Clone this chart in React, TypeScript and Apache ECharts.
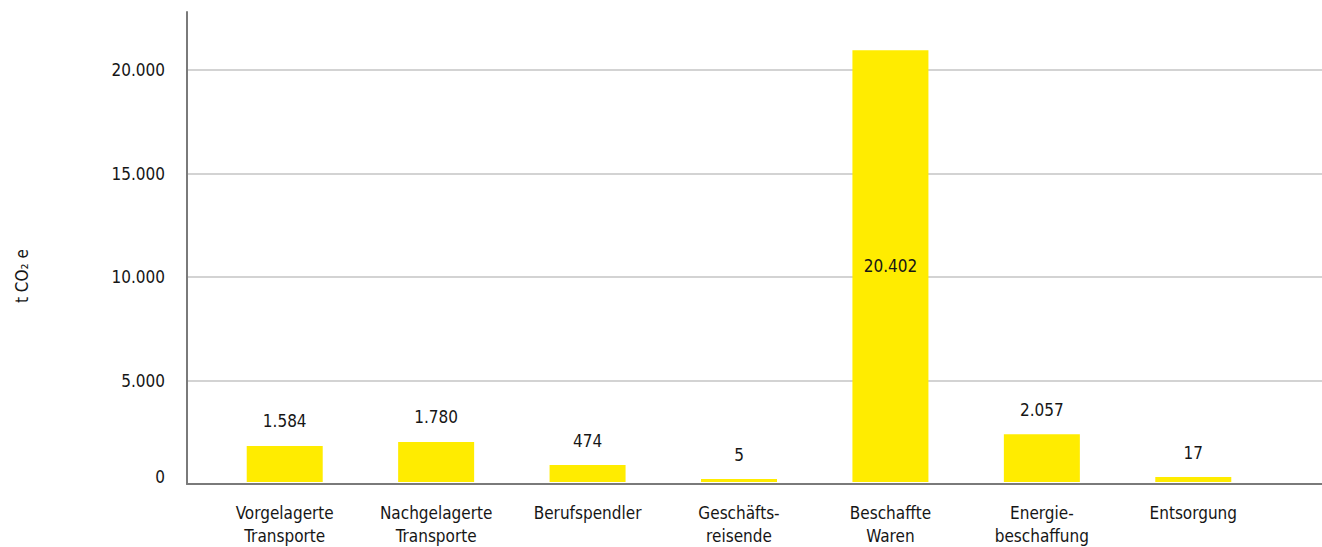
import React, { useEffect, useRef } from "react";
import * as echarts from "echarts";

const categories = [
  "Vorgelagerte\nTransporte",
  "Nachgelagerte\nTransporte",
  "Berufspendler",
  "Geschäfts-\nreisende",
  "Beschaffte\nWaren",
  "Energie-\nbeschaffung",
  "Entsorgung",
];
// Bar heights as drawn in the picture (t CO2e)
const barHeights = [1752, 1945, 820, 145, 20946, 2317, 241];
// Values printed on the bars
const valueLabels = [1584, 1780, 474, 5, 20402, 2057, 17];
const yTicks = [0, 5000, 10000, 15000, 20000];
const yTitle = "t CO₂ e";

const FONT = "'DejaVu Sans Condensed', 'DejaVu Sans', sans-serif";
const TEXT = "#161616";

const fmt = (n: number) => String(n).replace(/\B(?=(\d{3})+(?!\d))/g, ".");

export default function App() {
  const ref = useRef<HTMLDivElement>(null);
  useEffect(() => {
    if (!ref.current) return;
    const chart = echarts.init(ref.current, undefined, { renderer: "svg" });
    const yMaxTick = yTicks[yTicks.length - 1];
    const option: any = {
      animation: false,
      backgroundColor: "#ffffff",
      grid: [
        // axis lines frame
        { left: 187, right: 0, top: 12, bottom: 63 },
        // horizontal grid lines + y labels
        { left: 187, right: 0, top: 70, bottom: 63 },
        // bars
        { left: 209, right: 53, top: 12, bottom: 63 },
      ],
      xAxis: [
        {
          gridIndex: 0,
          type: "value",
          min: 0,
          max: 1,
          axisLine: { show: true, onZero: false, lineStyle: { color: "#7a7a7a", width: 2 } },
          axisTick: { show: false },
          axisLabel: { show: false },
          splitLine: { show: false },
        },
        { gridIndex: 1, type: "value", min: 0, max: 1, show: false },
        {
          gridIndex: 2,
          type: "category",
          data: categories,
          boundaryGap: true,
          axisLine: { show: false },
          axisTick: { show: false },
          axisLabel: {
            interval: 0,
            margin: 19,
            fontFamily: FONT,
            fontSize: 17,
            lineHeight: 23,
            color: TEXT,
          },
        },
      ],
      yAxis: [
        {
          gridIndex: 0,
          type: "value",
          min: 0,
          max: 22800,
          axisLine: { show: true, onZero: false, lineStyle: { color: "#7a7a7a", width: 2 } },
          axisTick: { show: false },
          axisLabel: { show: false },
          splitLine: { show: false },
        },
        {
          gridIndex: 1,
          type: "value",
          min: yTicks[0],
          max: yMaxTick,
          interval: yTicks[1] - yTicks[0],
          axisLine: { show: false },
          axisTick: { show: false },
          splitLine: {
            show: true,
            showMinLine: false,
            lineStyle: { color: "#c4c4c4", width: 1.5 },
          },
          axisLabel: {
            margin: 22,
            fontFamily: FONT,
            fontSize: 17,
            color: TEXT,
            formatter: (v: number) => (v === 0 ? "{z|0}" : "{n|" + fmt(v) + "}"),
            rich: {
              z: { fontFamily: FONT, fontSize: 17, color: TEXT, padding: [0, 0, 14, 0] },
              n: { fontFamily: FONT, fontSize: 17, color: TEXT },
            },
          },
        },
        { gridIndex: 2, type: "value", min: 0, max: 22800, show: false },
      ],
      graphic: [
        {
          type: "text",
          x: 22,
          y: 276,
          rotation: Math.PI / 2,
          style: {
            text: yTitle,
            fontFamily: FONT,
            fontSize: 17,
            fill: TEXT,
            align: "center",
            verticalAlign: "middle",
          },
        },
      ],
      series: [
        {
          type: "bar",
          xAxisIndex: 2,
          yAxisIndex: 2,
          barWidth: 76,
          itemStyle: { color: "#FFEC00" },
          label: {
            show: true,
            position: "top",
            distance: 16,
            fontFamily: FONT,
            fontSize: 17,
            color: TEXT,
            formatter: (p: any) => fmt(valueLabels[p.dataIndex]),
          },
          data: barHeights.map((h) =>
            h > 10000 ? { value: h, label: { position: "inside" } } : h
          ),
        },
      ],
    };
    chart.setOption(option);
    return () => chart.dispose();
  }, []);
  return (
    <div
      ref={ref}
      style={{ position: "fixed", left: 0, top: 0, width: 1322, height: 547 }}
    />
  );
}
